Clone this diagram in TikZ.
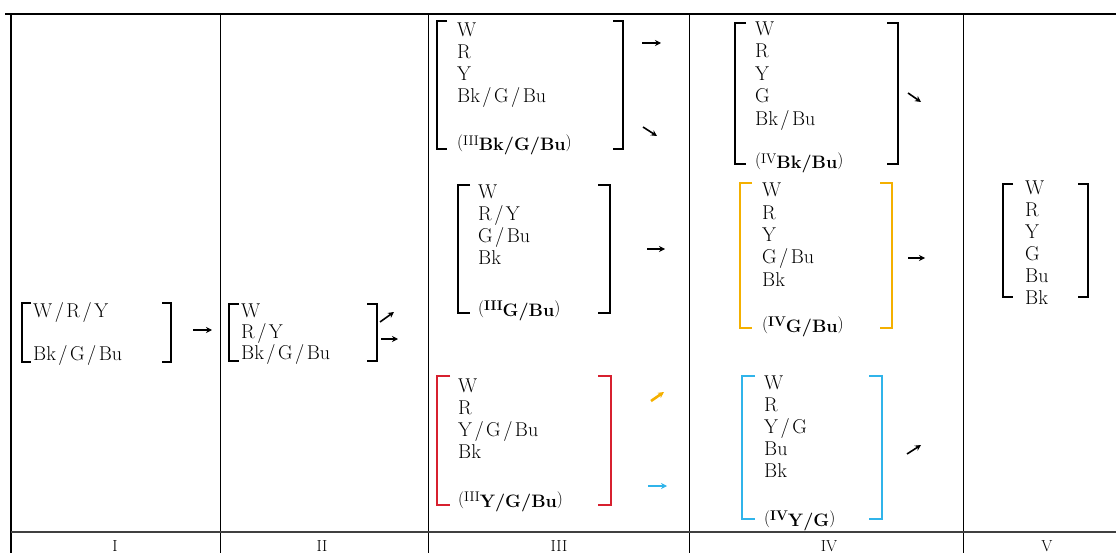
\documentclass[tikz,border=0pt]{standalone}
\usetikzlibrary{arrows.meta}
\definecolor{bred}{HTML}{D7202F}
\definecolor{borange}{HTML}{F4B000}
\definecolor{bblue}{HTML}{30B4EA}
\newcommand{\slsh}{\kern2.5pt/\kern2.5pt}
\newcommand{\labr}[2]{{\fontsize{17}{17}\selectfont(\raisebox{2.5pt}{\fontsize{14}{14}\selectfont #1}\raisebox{-3pt}{\fontsize{18}{18}\selectfont\bfseries #2})}}
\newcommand{\labb}[2]{{\fontsize{17}{17}\selectfont(\raisebox{2.5pt}{\fontsize{14}{14}\selectfont\bfseries #1}\raisebox{-3pt}{\fontsize{18}{18}\selectfont\bfseries #2})}}
\newcommand{\brpair}[6]{%
  \draw[brk,#6] ({#1+#5},#3) -- (#1,#3) -- (#1,#4) -- ({#1+#5},#4);
  \draw[brk,#6] ({#2-#5},#3) -- (#2,#3) -- (#2,#4) -- ({#2-#5},#4);}
\begin{document}
\begin{tikzpicture}[x=1pt,y=-1pt,
  every node/.style={inner sep=0pt, anchor=base west, font=\fontsize{20}{22}\selectfont},
  brk/.style={line width=1.7pt, line cap=butt, line join=miter},
  arr/.style={line width=1.6pt, -{Stealth[length=6pt,width=6pt]}},
  rule/.style={line width=1pt},
  colhead/.style={anchor=base, font=\fontsize{16}{16}\selectfont}]
\useasboundingbox (0,0) rectangle (1116,553);
\clip (0,0) rectangle (1116,553);
% table rules
\draw[line width=2.5pt] (5,14) -- (1116,14);
\draw[line width=1.8pt] (11,14) -- (11,553);
\draw[rule] (220,14) -- (220,553);
\draw[rule] (428,14) -- (428,553);
\draw[rule] (689,14) -- (689,553);
\draw[rule] (963,14) -- (963,553);
\draw[line width=1.5pt, black!75] (11,532) -- (1116,532);
% column heads
\node[colhead] (hI) at (115,551) {I};
\node[colhead] (hII) at (322,551) {II};
\node[colhead] (hIII) at (559,551) {III};
\node[colhead] (hIV) at (829,551) {IV};
\node[colhead] (hV) at (1047,551) {V};
% column I
\node (c1a) at (33,317) {W\slsh R\slsh Y};
\node (c1b) at (33,360) {Bk\slsh G\slsh Bu};
\brpair{22}{171}{303}{362}{9}{}
\draw[arr] (193,330) -- (212,330);
% column II
\node (c2a) at (241,317) {W};
\node (c2b) at (241,338) {R\slsh Y};
\node (c2c) at (241,359) {Bk\slsh G\slsh Bu};
\brpair{229}{377}{304}{361}{10}{}
\draw[arr] (380,322) -- (394,312);
\draw[arr] (381,339) -- (398,339);
% column III top
\foreach \t [count=\i from 0] in {W,R,Y,Bk\slsh G\slsh Bu}
  \node (t3a\i) at (457,{37+22*\i}) {\t};
\node (t3al) at (457,148) {\labr{III}{Bk/G/Bu}};
\brpair{437}{623}{21}{149}{10}{}
\draw[arr] (642,43) -- (661,43);
\draw[arr] (643,127) -- (657,136);
% column III middle
\foreach \t [count=\i from 0] in {W,R\slsh Y,G\slsh Bu,Bk}
  \node (t3b\i) at (478,{199+22*\i}) {\t};
\node (t3bl) at (478,313) {\labb{III}{G/Bu}};
\brpair{458}{610}{185}{313}{12}{}
\draw[arr] (647,249) -- (665,249);
% column III bottom
\foreach \t [count=\i from 0] in {W,R,Y\slsh G\slsh Bu,Bk}
  \node (t3c\i) at (458,{392+22*\i}) {\t};
\node (t3cl) at (458,504) {\labr{III}{Y/G/Bu}};
\brpair{437}{611}{376}{505}{13}{bred, line width=2.2pt}
\draw[arr, borange, line width=2.6pt] (651,401) -- (664,392);
\draw[arr, bblue, line width=2.6pt] (648,486) -- (667,486);
% column IV top
\foreach \t [count=\i from 0] in {W,R,Y,G,Bk\slsh Bu}
  \node (t4a\i) at (755,{35.5+22.5*\i}) {\t};
\node (t4al) at (755,166) {\labr{IV}{Bk/Bu}};
\brpair{735}{898}{23}{164}{11}{}
\draw[arr] (908,93) -- (921,102);
% column IV middle
\foreach \t [count=\i from 0] in {W,R,Y,G\slsh Bu,Bk}
  \node (t4b\i) at (762,{197+22.3*\i}) {\t};
\node (t4bl) at (762,329) {\labb{IV}{G/Bu}};
\brpair{740}{892}{183}{328}{12}{borange, line width=2.2pt}
\draw[arr] (908,258) -- (925,258);
% column IV bottom
\foreach \t [count=\i from 0] in {W,R,Y\slsh G,Bu,Bk}
  \node (t4c\i) at (764,{389+22*\i}) {\t};
\node (t4cl) at (764,523) {\labb{IV}{Y/G}};
\brpair{742}{882}{376}{519}{13}{bblue, line width=2.2pt}
\draw[arr] (907,454) -- (921,445);
% column V
\foreach \t [count=\i from 0] in {W,R,Y,G,Bu,Bk}
  \node (t5\i) at (1025,{195+22*\i}) {\t};
\brpair{1003}{1088}{184}{297}{10}{}
\end{tikzpicture}
\end{document}
